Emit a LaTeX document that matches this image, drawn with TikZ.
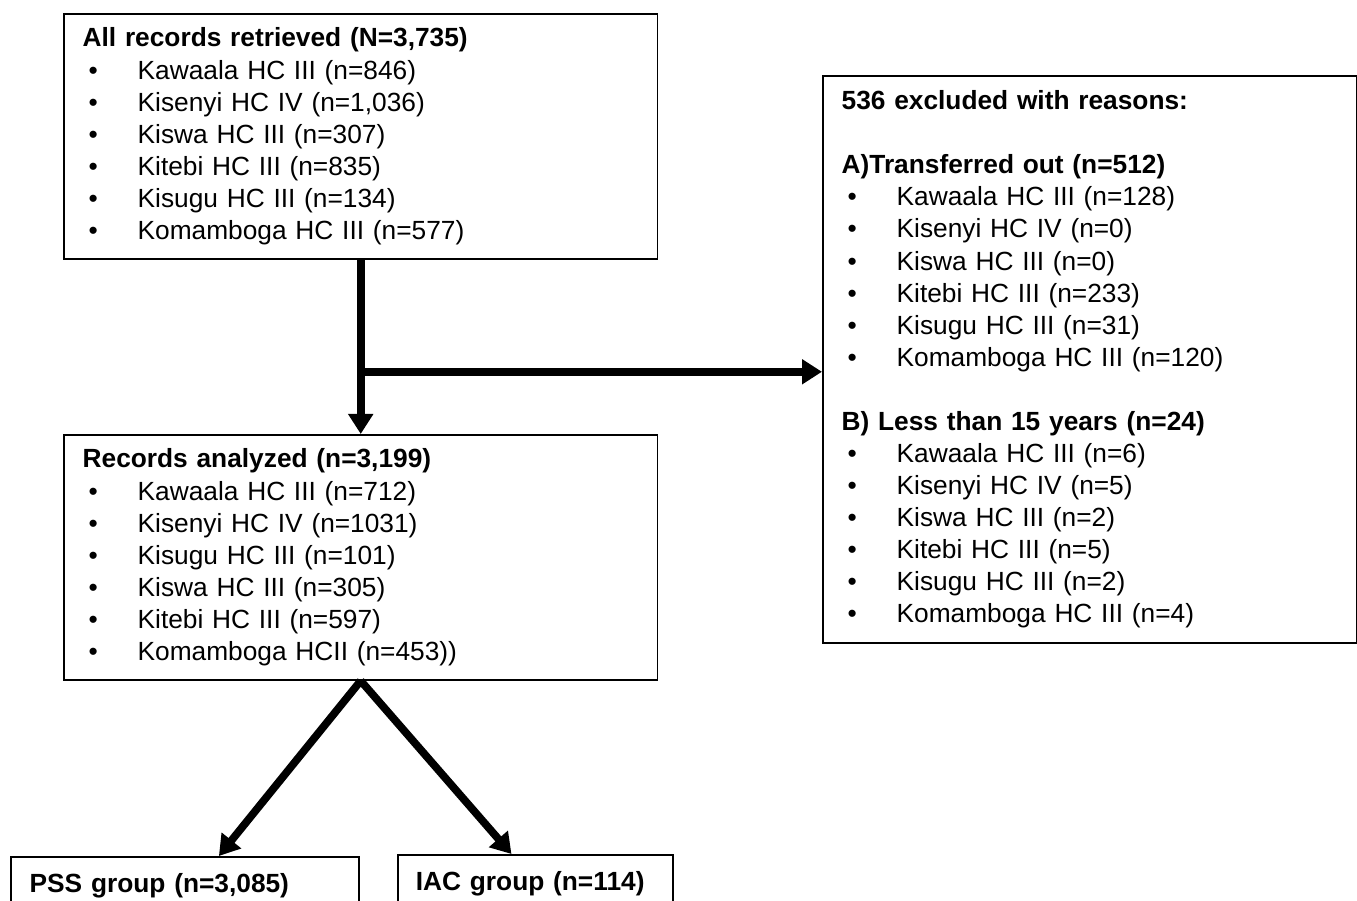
\documentclass[tikz,border=0pt]{standalone}
\usepackage{fontspec}
\setmainfont{Liberation Sans}
\usetikzlibrary{arrows.meta,positioning}
\tikzset{
  recbox/.style={draw, line width=1.2pt, anchor=north west, align=left,
    inner xsep=0.47cm, font=\fontsize{18.7}{22.8}\selectfont},
  grpbox/.style={recbox, inner ysep=0.42cm, text depth=2cm},
  flow/.style={line width=5.5pt, -{Triangle[width=0.6cm,length=0.5cm]}}
}
\newcommand{\site}[1]{\hspace*{0.15cm}\makebox[1.225cm][l]{\textbullet}#1}
\begin{document}
\begin{tikzpicture}[x=0.025cm,y=-0.025cm]
\useasboundingbox (0,0) rectangle (1357,901);
\clip (0,0) rectangle (1357,901);
% boxes (edit here for the counts)
\node[recbox, text width=13.9cm, minimum height=6.125cm] (retrieved) at (63,13)
{\textbf{All records retrieved (N=3,735)}\\
\site{Kawaala HC III (n=846)}\\
\site{Kisenyi HC IV (n=1,036)}\\
\site{Kiswa HC III (n=307)}\\
\site{Kitebi HC III (n=835)}\\
\site{Kisugu HC III (n=134)}\\
\site{Komamboga HC III (n=577)}};
\node[recbox, text width=12.4cm, minimum height=14.175cm] (excluded) at (822,75)
{\textbf{536 excluded with reasons:}\\[22.8pt]
\textbf{A)Transferred out (n=512)}\\
\site{Kawaala HC III (n=128)}\\
\site{Kisenyi HC IV (n=0)}\\
\site{Kiswa HC III (n=0)}\\
\site{Kitebi HC III (n=233)}\\
\site{Kisugu HC III (n=31)}\\
\site{Komamboga HC III (n=120)}\\[22.8pt]
\textbf{B) Less than 15 years (n=24)}\\
\site{Kawaala HC III (n=6)}\\
\site{Kisenyi HC IV (n=5)}\\
\site{Kiswa HC III (n=2)}\\
\site{Kitebi HC III (n=5)}\\
\site{Kisugu HC III (n=2)}\\
\site{Komamboga HC III (n=4)}};
\node[recbox, text width=13.9cm, minimum height=6.125cm] (analyzed) at (63,434)
{\textbf{Records analyzed (n=3,199)}\\
\site{Kawaala HC III (n=712)}\\
\site{Kisenyi HC IV (n=1031)}\\
\site{Kisugu HC III (n=101)}\\
\site{Kiswa HC III (n=305)}\\
\site{Kitebi HC III (n=597)}\\
\site{Komamboga HCII (n=453))}};
\node[grpbox, text width=7.76cm, inner xsep=0.47cm] (pss) at (10,856)
{\textbf{PSS group (n=3,085)}};
\node[grpbox, text width=5.98cm, inner xsep=0.45cm] (iac) at (397,854)
{\textbf{IAC group (n=114)}};
% arrows
\coordinate[below=2.8cm of retrieved.south] (split);
\draw[flow] (retrieved.south) -- (analyzed.north);
\draw[flow] (split) -- (split -| excluded.west);
\draw[flow] (analyzed.south) -- ([xshift=0.85cm]pss.north);
\draw[flow] (analyzed.south) -- ([xshift=-0.6cm]iac.north);
\end{tikzpicture}
\end{document}
